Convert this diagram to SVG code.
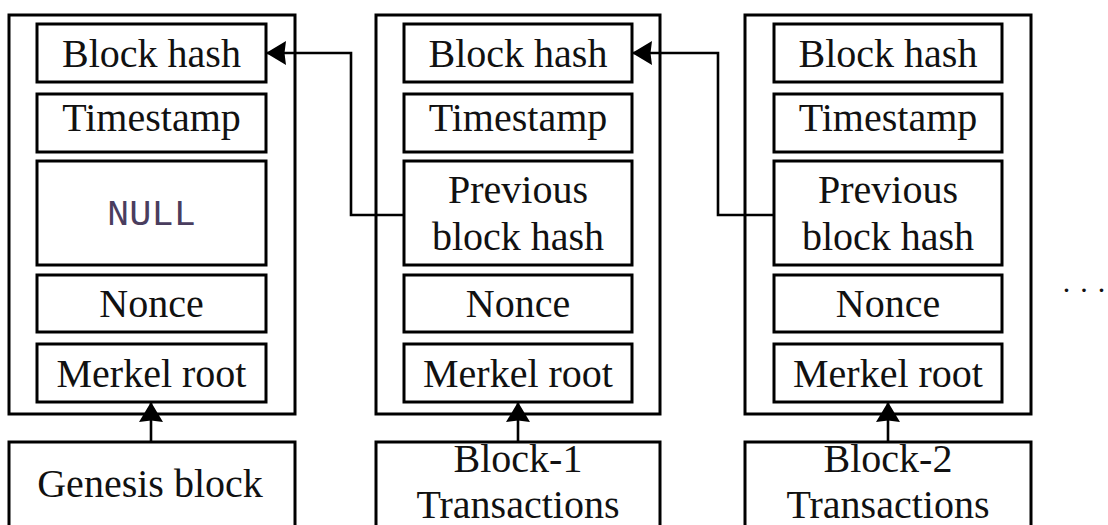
<svg xmlns="http://www.w3.org/2000/svg" width="1108" height="525" viewBox="0 0 1108 525">
  <style>
    .frame { fill: #fff; stroke: #000; stroke-width: 3; }
    .field { fill: #fff; stroke: #000; stroke-width: 3; }
    .lbl { font-family: "Liberation Serif", "Times New Roman", serif; font-size: 40px; fill: #111; text-anchor: middle; }
    .mono { font-family: "Liberation Mono", "Courier New", monospace; font-size: 37px; fill: #4a3d5e; text-anchor: middle; }
    .link { fill: none; stroke: #000; stroke-width: 2.6; }
  </style>
  <defs>
    <marker id="head" viewBox="0 0 20 24" refX="19" refY="12" markerWidth="20" markerHeight="24" markerUnits="userSpaceOnUse" orient="auto">
      <path d="M0,0 L20,12 L0,24 L1.5,12 Z" fill="#000"/>
    </marker>
  </defs>

  <!-- genesis block -->
  <g id="block0">
    <rect class="frame" x="9" y="15" width="286" height="399"/>
    <rect class="field" x="37" y="24" width="229" height="58"/>
    <text class="lbl" x="151.5" y="67">Block hash</text>
    <rect class="field" x="37" y="94" width="229" height="58"/>
    <text class="lbl" x="151.5" y="131">Timestamp</text>
    <rect class="field" x="37" y="161" width="229" height="104"/>
    <text class="mono" x="151.5" y="225">NULL</text>
    <rect class="field" x="37" y="275" width="229" height="57"/>
    <text class="lbl" x="151.5" y="317">Nonce</text>
    <rect class="field" x="37" y="344" width="229" height="58"/>
    <text class="lbl" x="151.5" y="387">Merkel root</text>
  </g>
  <g id="tx0">
    <rect class="frame" x="9" y="442" width="286" height="100"/>
    <text class="lbl" x="150" y="497">Genesis block</text>
  </g>

  <!-- block 1 -->
  <g id="block1">
    <rect class="frame" x="376" y="15" width="284" height="399"/>
    <rect class="field" x="404" y="24" width="228" height="58"/>
    <text class="lbl" x="518" y="67">Block hash</text>
    <rect class="field" x="404" y="94" width="228" height="58"/>
    <text class="lbl" x="518" y="131">Timestamp</text>
    <rect class="field" x="404" y="161" width="228" height="104"/>
    <text class="lbl" x="518" y="203">Previous</text>
    <text class="lbl" x="518" y="250">block hash</text>
    <rect class="field" x="404" y="275" width="228" height="57"/>
    <text class="lbl" x="518" y="317">Nonce</text>
    <rect class="field" x="404" y="344" width="228" height="58"/>
    <text class="lbl" x="518" y="387">Merkel root</text>
  </g>
  <g id="tx1">
    <rect class="frame" x="376" y="442" width="284" height="100"/>
    <text class="lbl" x="518" y="472">Block-1</text>
    <text class="lbl" x="518" y="518">Transactions</text>
  </g>

  <!-- block 2 -->
  <g id="block2">
    <rect class="frame" x="745" y="15" width="286" height="399"/>
    <rect class="field" x="774" y="24" width="228" height="58"/>
    <text class="lbl" x="888" y="67">Block hash</text>
    <rect class="field" x="774" y="94" width="228" height="58"/>
    <text class="lbl" x="888" y="131">Timestamp</text>
    <rect class="field" x="774" y="161" width="228" height="104"/>
    <text class="lbl" x="888" y="203">Previous</text>
    <text class="lbl" x="888" y="250">block hash</text>
    <rect class="field" x="774" y="275" width="228" height="57"/>
    <text class="lbl" x="888" y="317">Nonce</text>
    <rect class="field" x="774" y="344" width="228" height="58"/>
    <text class="lbl" x="888" y="387">Merkel root</text>
  </g>
  <g id="tx2">
    <rect class="frame" x="745" y="442" width="286" height="100"/>
    <text class="lbl" x="888" y="472">Block-2</text>
    <text class="lbl" x="888" y="518">Transactions</text>
  </g>

  <g id="more">
    <text class="lbl" x="1084" y="300" style="font-size:30px">· · ·</text>
  </g>

  <!-- hash links and transaction links -->
  <g id="connectors">
    <path class="link" d="M404,215 H351 V53 H267" marker-end="url(#head)"/>
    <path class="link" d="M774,215 H718 V53 H633" marker-end="url(#head)"/>
    <path class="link" d="M151,442 V403" marker-end="url(#head)"/>
    <path class="link" d="M518,442 V403" marker-end="url(#head)"/>
    <path class="link" d="M888,442 V403" marker-end="url(#head)"/>
  </g>
</svg>
